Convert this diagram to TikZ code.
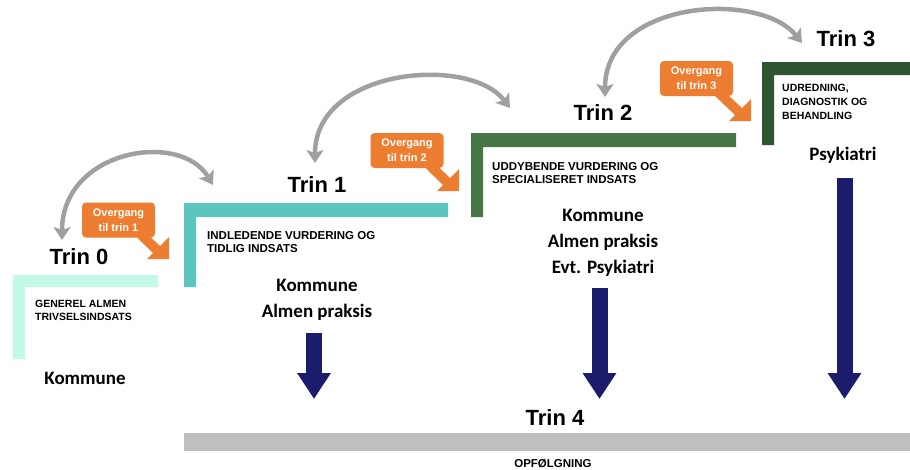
\documentclass[tikz,border=0pt]{standalone}
\usepackage{fontspec}
\setmainfont{Liberation Sans}
\newfontfamily\carlito{Carlito}
\usetikzlibrary{arrows.meta}
\definecolor{trinmint}{HTML}{C3F9E8}
\definecolor{trinteal}{HTML}{5BC5BE}
\definecolor{tringreen}{HTML}{467646}
\definecolor{trindark}{HTML}{2E5432}
\definecolor{overorange}{HTML}{ED7D31}
\definecolor{pilnavy}{HTML}{1C1C6C}
\definecolor{bargray}{HTML}{BFBFBF}
\definecolor{buegray}{HTML}{A0A0A0}
\begin{document}
\begin{tikzpicture}[x=1pt,y=-1pt,
 trintitle/.style={font=\fontsize{22}{24}\selectfont\bfseries,inner sep=0pt},
 trindesc/.style={font=\fontsize{10.5}{13}\selectfont\bfseries,align=left,anchor=north west,inner sep=0pt},
 trindescb/.style={trindesc,font=\fontsize{11.5}{13}\selectfont\bfseries},
 aktoer/.style={font=\carlito\bfseries\fontsize{19}{26}\selectfont,align=center,anchor=north,inner sep=0pt},
 overgang/.style={fill=overorange,text=white,rounded corners=4pt,minimum width=73pt,minimum height=35pt,inner sep=0pt,align=center,font=\fontsize{11}{15}\selectfont\bfseries},
 bue/.style={draw=buegray,line width=4.5pt,{Stealth[length=13pt,width=17pt,inset=3pt]}-{Stealth[length=13pt,width=17pt,inset=3pt]}},
 nedpil/.style={draw=pilnavy,line width=16pt,-{Triangle[length=26pt,width=32pt]}}]
 \useasboundingbox (0,0) rectangle (910,469);
 % trappetrin
 \fill[trinmint](13,275)--(158,275)--(158,287)--(25,287)--(25,359)--(13,359)--cycle;
 \fill[trinteal](184,203)--(448,203)--(448,217)--(196,217)--(196,287)--(184,287)--cycle;
 \fill[tringreen](471,133)--(736,133)--(736,147)--(483,147)--(483,217)--(471,217)--cycle;
 \fill[trindark](762,62)--(910,62)--(910,75)--(774,75)--(774,145)--(762,145)--cycle;
 \fill[bargray](184,433) rectangle (910,451);
 % titler
 \node[trintitle] (trin0) at (79,257) {Trin 0};
 \node[trintitle] (trin1) at (317,185) {Trin 1};
 \node[trintitle] (trin2) at (603,113) {Trin 2};
 \node[trintitle] (trin3) at (846,39) {Trin 3};
 \node[trintitle] (trin4) at (555,418) {Trin 4};
 % beskrivelser
 \node[trindesc] (besk0) at (35,299.5) {GENEREL ALMEN\\TRIVSELSINDSATS};
 \node[trindescb] (besk1) at (207,231) {INDLEDENDE VURDERING OG\\TIDLIG INDSATS};
 \node[trindescb] (besk2) at (492,162) {UDDYBENDE VURDERING OG\\SPECIALISERET INDSATS};
 \node[trindesc,font=\fontsize{10.5}{14}\selectfont\bfseries] (besk3) at (782,84) {UDREDNING,\\DIAGNOSTIK OG\\BEHANDLING};
 \node[trindescb,anchor=center] (opf) at (553,464) {OPFØLGNING};
 % aktoerer
 \node[aktoer] (akt0) at (85,372) {Kommune};
 \node[aktoer] (akt1) at (317,279) {Kommune\\Almen praksis};
 \node[aktoer] (akt2) at (603,209) {Kommune\\Almen praksis\\Evt. Psykiatri};
 \node[aktoer] (akt3) at (843,147) {Psykiatri};
 % overgange
 \node[overgang] (over1) at (118.5,220) {Overgang\\til trin 1};
 \node[overgang] (over2) at (407,150.5) {Overgang\\til trin 2};
 \node[overgang] (over3) at (696.5,78.5) {Overgang\\til trin 3};
 \fill[overorange]([xshift=-19pt,yshift=1pt]over1.south east)--(153,253)--(147,259)--(169,259)--(169,237)--(160,246)--([xshift=-5pt,yshift=1pt]over1.south east)--cycle;
 \fill[overorange]([xshift=-19pt,yshift=1pt]over2.south east)--(443,185)--(437,191)--(459,191)--(459,169)--(450,178)--([xshift=-5pt,yshift=1pt]over2.south east)--cycle;
 \fill[overorange]([xshift=-19pt,yshift=1pt]over3.south east)--(735,115)--(729,121)--(751,121)--(751,99)--(742,108)--([xshift=-5pt,yshift=1pt]over3.south east)--cycle;
 % buer
 \coordinate (bue0a) at (62,240);
 \coordinate (bue0b) at (213,185);
 \coordinate (bue1a) at (315,163);
 \coordinate (bue1b) at (510,108);
 \coordinate (bue2a) at (605,97);
 \coordinate (bue2b) at (802,43);
 \draw[bue](bue0a) .. controls (62,150) and (180,130) .. (bue0b);
 \draw[bue](bue1a) .. controls (315,68) and (470,55) .. (bue1b);
 \draw[bue](bue2a) .. controls (605,0) and (760,-10) .. (bue2b);
 % pile mod trin 4
 \coordinate (pil1) at (314,333);
 \coordinate (pil1s) at (314,399);
 \coordinate (pil2) at (599.5,288);
 \coordinate (pil2s) at (599.5,399);
 \coordinate (pil3) at (844.5,178);
 \coordinate (pil3s) at (844.5,399);
 \draw[nedpil](pil1)--(pil1s);
 \draw[nedpil](pil2)--(pil2s);
 \draw[nedpil](pil3)--(pil3s);
\end{tikzpicture}
\end{document}
